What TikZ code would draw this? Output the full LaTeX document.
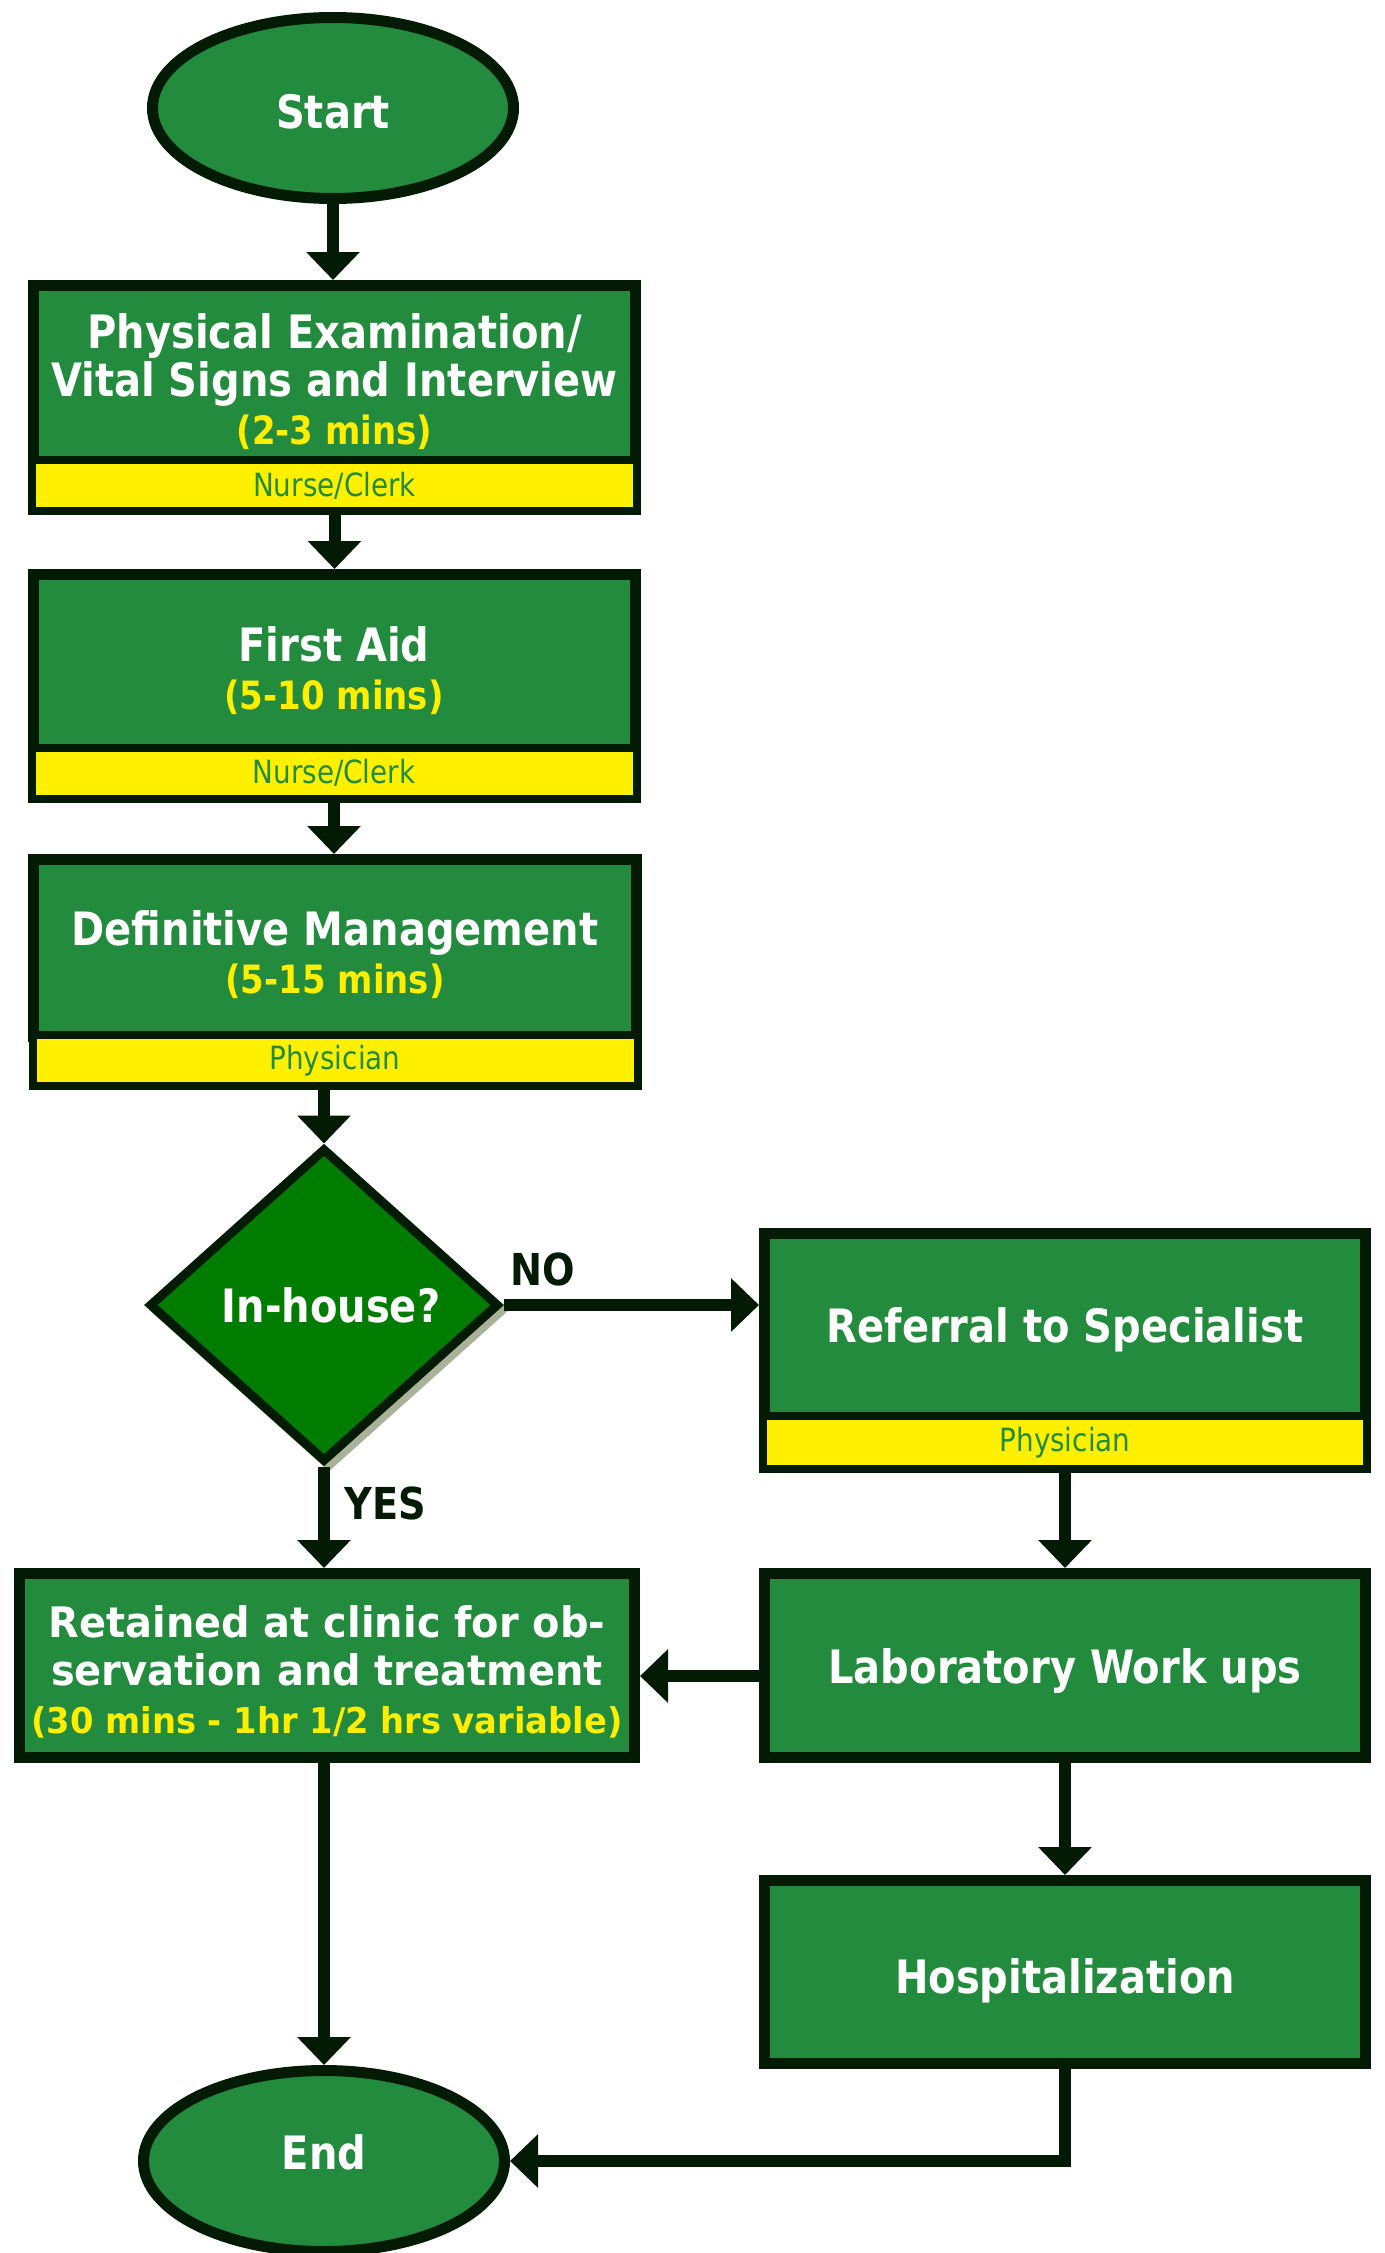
\documentclass[tikz,border=0pt]{standalone}
\usepackage{fontspec}
\setmainfont{DejaVu Sans}
\newfontfamily\tfont{DejaVu Sans}[FakeStretch=0.87]
\newfontfamily\rfont{DejaVu Sans}[FakeStretch=0.95]
\usetikzlibrary{shapes.geometric,arrows.meta,shadows}
\definecolor{dk}{HTML}{031B05}
\definecolor{gfill}{HTML}{238B3D}
\definecolor{dfill}{HTML}{007D00}
\definecolor{ybar}{HTML}{FFF000}
\definecolor{ytxt}{HTML}{FFEE00}
\definecolor{shd}{HTML}{A9B198}
\newcommand\ytime[1]{{\color{ytxt}\fontsize{39}{48}\selectfont #1}}
\newcommand\topstrut[1]{\rule{0pt}{#1}}
\tikzset{
  gbox/.style={rectangle, draw=dk, line width=11pt, fill=gfill, text=white,
    font=\tfont\bfseries\fontsize{46}{48}\selectfont, align=center, inner sep=0pt},
  band/.style={rectangle, draw=dk, line width=8pt, fill=ybar, text=gfill,
    font=\tfont\fontsize{32}{36}\selectfont, inner sep=0pt,
    minimum width=605pt, minimum height=51pt},
  term/.style={ellipse, draw=dk, line width=11pt, fill=gfill, text=white,
    font=\tfont\bfseries\fontsize{46}{48}\selectfont, inner sep=0pt,
    minimum width=361pt, minimum height=181pt},
  decision/.style={diamond, draw=dk, line width=9pt, fill=dfill, text=white,
    font=\tfont\bfseries\fontsize{46}{48}\selectfont, inner sep=0pt,
    minimum width=350pt, minimum height=314pt,
    drop shadow={shadow xshift=5pt, shadow yshift=-5pt, fill=shd, draw=shd, line width=9pt, opacity=1}},
  arr/.style={draw=dk, line width=12pt, -{Triangle[width=52pt,length=28pt]}},
  lbl/.style={text=dk, font=\tfont\bfseries\fontsize{44}{48}\selectfont, inner sep=0pt}
}
\begin{document}
\begin{tikzpicture}[x=1pt,y=-1pt]
\fill[white] (0,0) rectangle (1384,2253);
\useasboundingbox (0,0) rectangle (1384,2253);

\node[term] (start) at (333,108) {\topstrut{41pt}Start};

\node[gbox, minimum width=602pt, minimum height=176pt] (pe) at (334.5,373.5)
  {\topstrut{52pt}Physical Examination/\\Vital Signs and Interview\\\ytime{(2-3 mins)}};
\node[band] (peb) at (334.5,485.5) {Nurse/Clerk};

\node[gbox, minimum width=602pt, minimum height=175pt] (fa) at (334,662)
  {\topstrut{52pt}First Aid\\\ytime{(5-10 mins)}};
\node[band, minimum height=50.5pt] (fab) at (334,773.25) {Nurse/Clerk};

\node[gbox, minimum width=603pt, minimum height=177pt] (dm) at (335,948)
  {\topstrut{49pt}Definitive Management\\\ytime{(5-15 mins)}};
\node[band] (dmb) at (335,1060.5) {Physician};

\node[decision] (dia) at (324,1305) {\hspace*{14pt}In-house?};

\node[gbox, minimum width=601pt, minimum height=184pt] (ref) at (1065,1325.5)
  {\topstrut{44pt}Referral to Specialist};
\node[band, minimum width=604pt, minimum height=53pt] (refb) at (1065,1442.5) {Physician};

\node[gbox, minimum width=601pt, minimum height=184pt] (lab) at (1065,1665.5)
  {\topstrut{46pt}Laboratory Work ups};

\node[gbox, minimum width=601pt, minimum height=183pt] (hosp) at (1065,1972)
  {\topstrut{52pt}Hospitalization};

\node[gbox, minimum width=615pt, minimum height=184pt,
  font=\rfont\bfseries\fontsize{42}{48}\selectfont] (ret) at (327,1665.5)
  {\topstrut{44pt}Retained at clinic for ob-\\servation and treatment\\{\color{ytxt}\fontsize{35.5}{48}\selectfont (30 mins - 1hr 1/2 hrs variable)}};

\node[term] (end) at (324,2161) {End\rule[-18pt]{0pt}{18pt}};

\node[lbl] (no) at (543,1269) {NO};
\node[lbl] (yes) at (385,1503) {YES};

\coordinate (lr) at (700,1676);

\draw[arr] (start.south) -- (start.south |- pe.north);
\draw[arr] (peb.south) -- (peb.south |- fa.north);
\draw[arr] (fab.south) -- (fab.south |- dm.north);
\draw[arr] (dia.north |- dmb.south) -- (dia.north);
\draw[arr] (dia.east) -- (dia.east -| ref.west);
\draw[arr] (dia.south) -- (dia.south |- ret.north);
\draw[arr] (refb.south) -- (lab.north);
\draw[arr] (lab.south) -- (hosp.north);
\draw[arr] (lab.west |- lr) -- (ret.east |- lr);
\draw[arr] (end.north |- ret.south) -- (end.north);
\draw[arr] (hosp.south) |- (end.east);
\end{tikzpicture}
\end{document}
